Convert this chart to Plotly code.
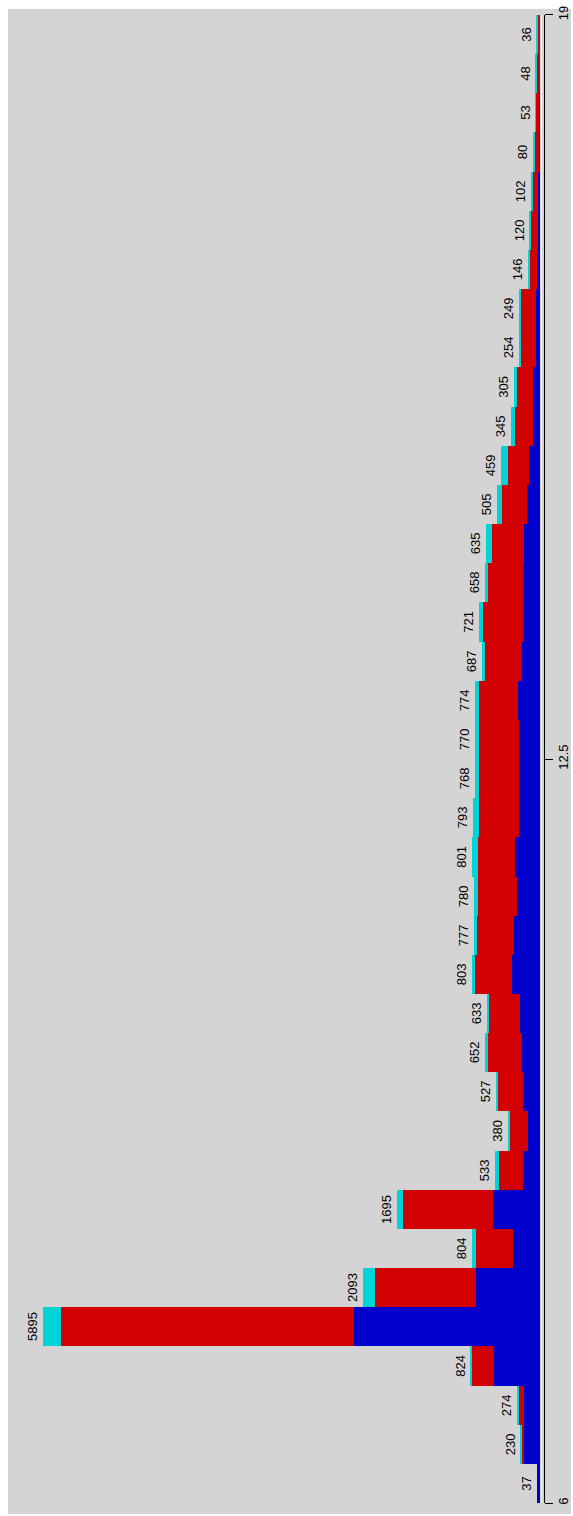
import plotly.graph_objects as go

# Histogram bins span 6 .. 19, one bar per bin, stacked in three layers
BIN_START = 6.0
BIN_END = 19.0

totals = [37, 230, 274, 824, 5895, 2093, 804, 1695, 533, 380, 527, 652, 633,
          803, 777, 780, 801, 793, 768, 770, 774, 687, 721, 658, 635, 505,
          459, 345, 305, 254, 249, 146, 120, 102, 80, 53, 48, 36]
blue_part = [37, 190, 186, 545, 2205, 762, 317, 553, 198, 146, 198, 217, 237,
             328, 308, 276, 293, 245, 245, 245, 257, 217, 198, 198, 186, 158,
             127, 87, 87, 50, 47, 32, 24, 20, 15, 10, 5, 2]
red_part = [0, 33, 74, 270, 3473, 1194, 445, 1067, 284, 212, 300, 396, 370,
            454, 440, 459, 446, 478, 478, 482, 466, 431, 474, 415, 387, 296,
            256, 206, 182, 180, 180, 95, 84, 68, 55, 38, 38, 31]
cyan_part = [t - b - r for t, b, r in zip(totals, blue_part, red_part)]

tick_vals = [6, 12.5, 19]
tick_text = ["6", "12.5", "19"]

n_bins = len(totals)
bin_w = (BIN_END - BIN_START) / n_bins
centers = [BIN_START + (i + 0.5) * bin_w for i in range(n_bins)]

BLUE = "#0000cc"
RED = "#d20000"
CYAN = "#00d4d6"
PANEL = "#d4d4d4"
FONT = "Liberation Sans, Arial, sans-serif"

# explicit stacking: each layer starts where the previous one ends
red_base = list(blue_part)
cyan_base = [b + r for b, r in zip(blue_part, red_part)]

fig = go.Figure()
for vals, base, col in ((blue_part, None, BLUE),
                        (red_part, red_base, RED),
                        (cyan_part, cyan_base, CYAN)):
    fig.add_trace(go.Bar(
        y=centers, x=vals, base=base, width=bin_w, orientation="h",
        marker=dict(color=col, line=dict(width=0)),
        hoverinfo="skip",
    ))

# transparent full-height bars carry the count labels at each bar's end
fig.add_trace(go.Bar(
    y=centers, x=totals, width=bin_w, orientation="h",
    marker=dict(color="rgba(0,0,0,0)", line=dict(width=0)),
    text=[str(t) for t in totals], textposition="outside",
    textangle=-90, constraintext="none", cliponaxis=False,
    textfont=dict(family=FONT, size=13, color="black"),
    hoverinfo="skip",
))

W, H = 573, 1516
ML, MR, MT, MB = 8, 2, 4, 0
inner_w = W - ML - MR
inner_h = H - MT - MB

def px_x(p):
    return (p - ML) / inner_w

def px_y(p):
    return (H - MB - p) / inner_h

base_px = 540.0
scale = (base_px - 42.8) / 5895.0  # pixels per count
x_max = (base_px - ML) / scale

fig.update_layout(
    width=W, height=H,
    margin=dict(l=ML, r=MR, t=MT, b=MB, pad=0),
    paper_bgcolor="white", plot_bgcolor=PANEL,
    barmode="overlay", bargap=0, showlegend=False,
    font=dict(family=FONT, size=13, color="black"),
    xaxis=dict(range=[x_max, 0], domain=[0, px_x(base_px)], visible=False,
               showgrid=False, zeroline=False, fixedrange=True),
    yaxis=dict(range=[BIN_START, BIN_END], domain=[px_y(1505), px_y(10)],
               side="right", anchor="free", position=px_x(543.5),
               showline=True, linecolor="black", linewidth=1,
               ticks="outside", ticklen=8, tickcolor="black", tickwidth=1,
               tickvals=tick_vals, ticktext=tick_text, tickangle=-90,
               tickfont=dict(size=13, color="black"),
               showgrid=False, zeroline=False, fixedrange=True),
    shapes=[
        # grey panel behind everything
        dict(type="rect", xref="paper", yref="paper", x0=0, x1=1, y0=0, y1=1,
             fillcolor=PANEL, line=dict(width=0), layer="below"),
        # light edge beside the axis line
        dict(type="line", xref="paper", yref="paper",
             x0=px_x(541.5), x1=px_x(541.5), y0=px_y(1505), y1=px_y(10),
             line=dict(color="#f2f2f2", width=1)),
    ],
)

fig.write_html("out.html")
